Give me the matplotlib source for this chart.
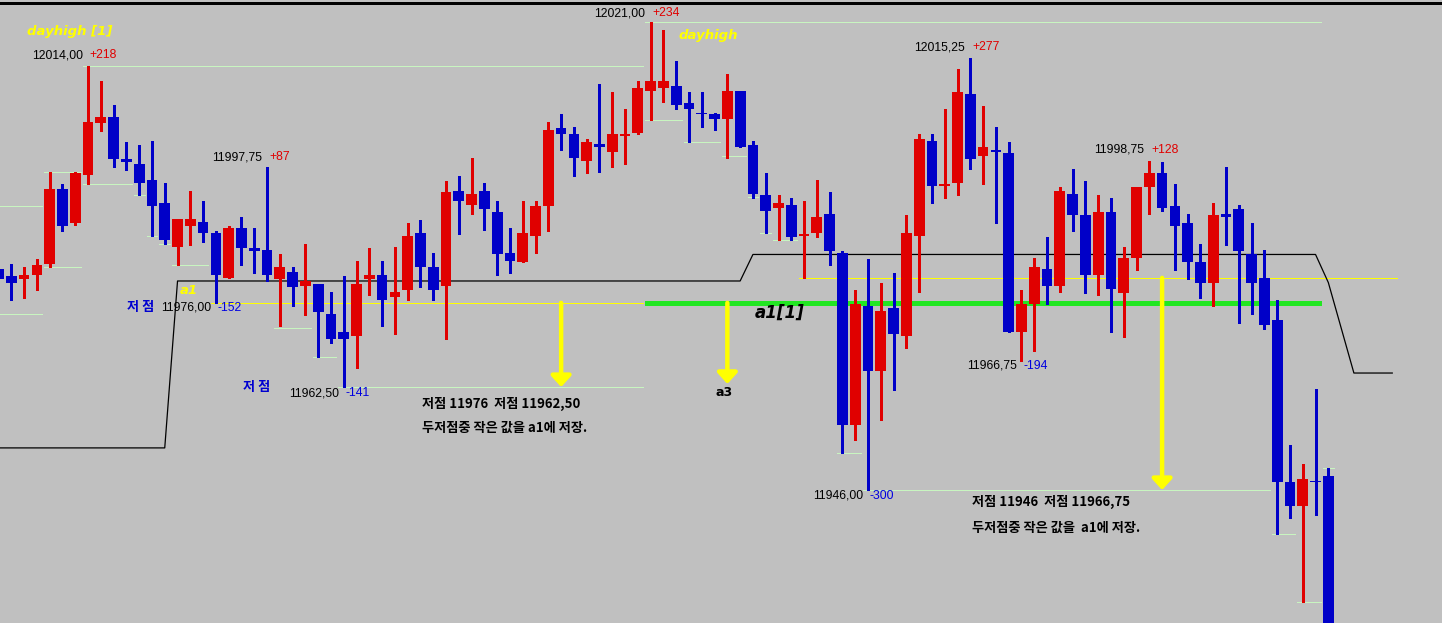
import numpy as np
import matplotlib
matplotlib.use('Agg')
import matplotlib.pyplot as plt

plt.rcParams['font.family'] = ['Noto Sans CJK KR', 'DejaVu Sans']

# ---- candle data (index -1 is the cut-off bar at the left edge) ----
opens = [11981.5, 11980.25, 11979.75, 11980.5, 11982.25, 11994.25, 11988.75, 11996.5, 12004.75, 12005.75,
         11999.0, 11998.25, 11995.75, 11992.0, 11985.0, 11988.25, 11989.0, 11987.25, 11980.0, 11988.0,
         11984.75, 11984.5, 11979.75, 11981.0, 11978.75, 11979.0, 11974.25, 11971.25, 11970.75, 11979.75,
         11980.5, 11977.0, 11978.0, 11987.25, 11981.75, 11978.75, 11994.0, 11991.75, 11994.0, 11990.5,
         11984.0, 11982.5, 11986.75, 11991.5, 12004.0, 12003.0, 11998.75, 12001.5, 12000.25, 12002.75,
         12003.25, 12010.0, 12010.5, 12010.75, 12008.0, 12006.5, 12006.25, 12005.5, 12010.0, 12001.25,
         11993.25, 11991.25, 11991.75, 11986.75, 11987.25, 11990.25, 11984.0, 11956.5, 11975.5, 11965.0,
         11975.25, 11970.75, 11986.75, 12002.0, 11994.75, 11995.25, 12009.5, 11999.5, 12000.5, 12000.0,
         11971.25, 11975.75, 11981.5, 11978.75, 11993.5, 11990.0, 11980.5, 11990.5, 11977.5, 11983.25,
         11994.5, 11996.75, 11991.5, 11988.75, 11982.5, 11979.25, 11990.25, 11991.0, 11983.75, 11980.0,
         11973.25, 11947.25, 11943.5, 11947.5, 11948.25]
highs = [11982.5, 11982.25, 11981.75, 11983.0, 11997.0, 11995.0, 11997.0, 12014.0, 12011.5, 12007.75,
         12001.75, 12001.25, 12002.0, 11995.25, 11989.5, 11994.0, 11992.25, 11987.5, 11988.25, 11989.75,
         11988.0, 11997.75, 11983.75, 11981.75, 11985.5, 11979.0, 11977.75, 11980.25, 11982.75, 11984.75,
         11982.75, 11985.0, 11988.75, 11989.25, 11984.0, 11995.5, 11996.25, 11999.25, 11995.25, 11992.25,
         11988.0, 11992.25, 11992.25, 12005.0, 12006.25, 12004.25, 12002.25, 12011.0, 12009.75, 12007.0,
         12011.5, 12021.0, 12019.75, 12014.75, 12009.75, 12009.75, 12006.5, 12012.75, 12010.0, 12002.0,
         11996.75, 11993.25, 11992.75, 11992.25, 11995.75, 11993.75, 11984.25, 11978.0, 11983.0, 11979.25,
         11980.75, 11990.0, 12003.0, 12003.0, 12007.0, 12013.5, 12015.25, 12007.5, 12004.25, 12001.75,
         11978.0, 11983.25, 11986.5, 11994.5, 11997.5, 11995.5, 11993.25, 11992.75, 11985.0, 11994.5,
         11998.75, 11998.5, 11995.0, 11990.25, 11985.5, 11992.0, 11997.75, 11991.75, 11988.75, 11984.5,
         11976.5, 11953.25, 11950.25, 11962.25, 11949.5]
lows = [11978.75, 11976.5, 11976.75, 11978.0, 11981.75, 11987.5, 11988.5, 11995.0, 12003.5, 11997.75,
        11997.25, 11993.25, 11986.75, 11985.5, 11982.0, 11985.25, 11985.75, 11976.0, 11980.0, 11982.0,
        11980.75, 11979.5, 11972.25, 11975.5, 11974.0, 11967.25, 11969.5, 11962.5, 11965.5, 11977.25,
        11972.25, 11971.0, 11976.5, 11978.5, 11976.5, 11970.25, 11987.0, 11990.25, 11987.75, 11980.5,
        11980.75, 11982.5, 11984.0, 11987.5, 12000.5, 11996.25, 11996.75, 11997.0, 11997.75, 11998.25,
        12003.0, 12005.25, 12008.25, 12007.0, 12001.75, 12004.25, 12003.75, 11999.25, 12001.0, 11992.75,
        11987.25, 11986.0, 11986.0, 11980.0, 11986.5, 11982.0, 11952.0, 11954.0, 11946.0, 11957.25,
        11962.0, 11968.75, 11977.75, 11992.0, 11992.75, 11993.25, 11997.5, 11995.0, 11988.75, 11971.25,
        11966.75, 11968.25, 11975.75, 11977.75, 11987.5, 11977.5, 11977.25, 11971.25, 11970.5, 11981.25,
        11990.25, 11990.75, 11981.25, 11979.75, 11976.75, 11975.5, 11985.25, 11972.75, 11974.25, 11971.75,
        11939.0, 11941.5, 11928.0, 11942.0, 11918.0]
closes = [11979.75, 11979.25, 11980.5, 11982.0, 11994.25, 11988.25, 11996.75, 12005.0, 12005.75, 11999.0,
          11998.5, 11995.25, 11991.5, 11986.0, 11989.5, 11989.5, 11987.25, 11980.5, 11988.0, 11984.75,
          11984.25, 11980.5, 11981.75, 11978.5, 11979.5, 11974.5, 11970.25, 11970.25, 11979.0, 11980.5,
          11976.5, 11977.75, 11986.75, 11981.75, 11978.0, 11993.75, 11992.25, 11993.5, 11991.0, 11983.75,
          11982.75, 11987.25, 11991.5, 12003.75, 12003.0, 11999.25, 12001.75, 12001.0, 12003.0, 12003.0,
          12010.5, 12011.5, 12011.5, 12007.75, 12007.0, 12006.25, 12005.5, 12010.0, 12001.0, 11993.5,
          11990.75, 11992.0, 11986.5, 11987.0, 11989.75, 11984.25, 11956.5, 11975.75, 11965.0, 11974.75,
          11971.0, 11987.25, 12002.25, 11994.75, 11995.0, 12009.75, 11999.0, 12001.0, 12000.25, 11971.25,
          11975.75, 11981.75, 11978.75, 11994.0, 11990.0, 11980.5, 11990.5, 11978.25, 11983.25, 11994.5,
          11996.75, 11991.25, 11988.25, 11982.5, 11979.25, 11990.0, 11989.75, 11984.25, 11979.25, 11972.5,
          11947.25, 11943.5, 11947.75, 11947.25, 11920.0]
idx = np.arange(-1, len(opens) - 1)

# swing high / low guide lines: price, first bar, last bar
level_price = [11991.5, 11974.25, 11997.0, 11981.75, 11995.0, 11993.25, 11986.75, 11985.5, 11982.0,
               12014.0, 11972.0, 11967.25, 11962.5, 12021.0, 12005.25, 12001.75, 11999.5, 11993.0,
               11987.25, 11986.0, 11952.0, 11946.0, 11939.0, 11928.0, 11949.5]
level_from = [-1, -1, 3, 3, 6, 10, 11, 12, 13, 6, 21, 24, 26, 50, 50, 53, 56, 58, 59, 60, 65, 67, 99, 101, 103]
level_to = [2, 2, 5, 5, 9, 10, 11, 12, 15, 49, 23, 25, 49, 102, 52, 55, 57, 58, 59, 61, 66, 98, 100, 102, 103]

# black step indicator
step_x = [-1, 12, 13, 57, 58, 102, 103, 104, 105, 108]
step_y = [11952.75, 11952.75, 11979.5, 11979.5, 11983.75, 11983.75, 11979.25, 11972.0, 11964.75, 11964.75]

low_a1 = 11976.0      # a1 level
low_a1_prev = 11980.0
arrow_bar = [43, 56, 90]
arrow_from = [11976.0, 11976.0, 11980.0]
arrow_to = [11962.5, 11963.0, 11946.0]

# high / low labels: number, change
hl_text = ['12014,00', '11997,75', '12021,00', '12015,25', '11998,75',
           '11976,00', '11962,50', '11946,00', '11966,75']
hl_delta = ['+218', '+87', '+234', '+277', '+128', '-152', '-141', '-300', '-194']

W, H = 1442, 623
BG = '#c0c0c0'
RED = '#e00000'
BLUE = '#0000c8'
PALE = '#c8f5c0'

fig = plt.figure(figsize=(W / 100, H / 100), dpi=100, facecolor=BG)
ax = fig.add_axes([0, 0, 1, 1])
ax.set_facecolor(BG)
ax.set_xlim(-0.884, 111.89)
ax.set_ylim(11924.69, 12024.53)
ax.axis('off')

ax.axhline(12024.0, color='black', lw=0.75, antialiased=False)

for p, a, b in zip(level_price, level_from, level_to):
    ax.hlines(p, a - 0.42, b + 0.42, color=PALE, lw=0.7, antialiased=False)

ax.hlines(low_a1, 15.58, 49.42, color='#ffff00', lw=0.7, antialiased=False)
ax.hlines(low_a1, 49.58, 102.42, color='#22e622', lw=2.4, antialiased=False)
ax.hlines(low_a1_prev, 61.58, 108.4, color='#ffff00', lw=0.7, antialiased=False)

ax.plot(step_x, step_y, color='black', lw=0.9)

for xb, y0, y1 in zip(arrow_bar, arrow_from, arrow_to):
    ax.annotate('', xy=(xb, y1), xytext=(xb, y0),
                arrowprops=dict(arrowstyle='-|>,head_length=0.55,head_width=0.5',
                                color='#ffff00', lw=3.2, mutation_scale=12, shrinkA=0, shrinkB=0))

# candles
o = np.array(opens); c = np.array(closes)
up = c > o
cols = np.where(up, RED, BLUE)
ax.vlines(idx, lows, highs, colors=cols, lw=0.9, antialiased=False, zorder=3)
body_lo = np.minimum(o, c)
body_h = np.maximum(np.abs(c - o), 0.22)
ax.bar(idx, body_h, bottom=body_lo, width=0.84, color=cols, linewidth=0,
       antialiased=False, zorder=4)


# ---- text ----
def px(x, y):
    return x / W, 1 - y / H


# number right edge, change left edge, y centre (pixels)
num_right = [83, 262, 645, 965, 1144, 211, 339, 863, 1017]
delta_left = [89, 269, 652, 972, 1151, 218, 346, 870, 1023]
label_y = [55, 157, 13, 47, 150, 308, 393, 496, 366]
for s, d, xr, xl, yy in zip(hl_text, hl_delta, num_right, delta_left, label_y):
    dcol = RED if d.startswith('+') else '#0000e0'
    fig.text(*px(xr, yy), s, family='Liberation Sans', fontsize=8.8, color='black',
             va='center', ha='right')
    fig.text(*px(xl, yy), d, family='Liberation Sans', fontsize=8.8, color=dcol,
             va='center', ha='left')

fig.text(*px(127, 307), '저 점', fontsize=9.5, fontweight='bold', color='#0000d0', va='center')
fig.text(*px(243, 387), '저 점', fontsize=9.5, fontweight='bold', color='#0000d0', va='center')

note_kw = dict(fontsize=9.5, fontweight='bold', color='black', va='center', ha='left')
fig.text(*px(422, 404), '저점 11976  저점 11962,50', **note_kw)
fig.text(*px(422, 428), '두저점중 작은 값을 a1에 저장.', **note_kw)
fig.text(*px(972, 502), '저점 11946  저점 11966,75', **note_kw)
fig.text(*px(972, 528), '두저점중 작은 값을  a1에 저장.', **note_kw)

fig.text(*px(27, 31), 'dayhigh [1]', family='DejaVu Sans', fontsize=9.5, fontweight='bold',
         style='italic', color='#ffff00', va='center')
fig.text(*px(679, 35), 'dayhigh', family='DejaVu Sans', fontsize=9.5, fontweight='bold',
         style='italic', color='#ffff00', va='center')
fig.text(*px(180, 290), 'a1', family='DejaVu Sans', fontsize=9.5, fontweight='bold',
         style='italic', color='#ffff00', va='center')
fig.text(*px(755, 313), 'a1[1]', family='DejaVu Sans', fontsize=12, fontweight='bold',
         style='italic', color='black', va='center')
fig.text(*px(715, 392), 'a3', family='DejaVu Sans', fontsize=9, fontweight='bold',
         color='black', va='center')

fig.savefig('out.png', dpi=100, facecolor=BG)
